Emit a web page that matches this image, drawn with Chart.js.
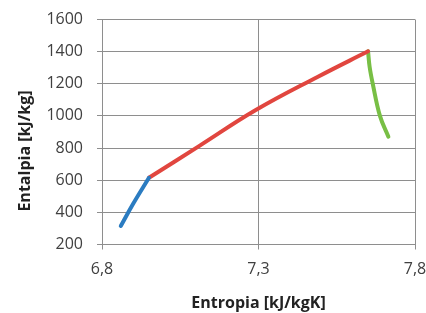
<!DOCTYPE html>
<html>
<head>
<meta charset="utf-8">
<script src="https://cdn.jsdelivr.net/npm/chart.js@4"></script>
<style>
  html, body { margin: 0; padding: 0; background: #fff; }
  #wrap { width: 426px; height: 313px; }
</style>
</head>
<body>
<div id="wrap"><canvas id="grafico"></canvas></div>
<script>
// dados (entropia kJ/kgK, entalpia kJ/kg)
const azulS = [6.86, 6.90, 6.95];
const azulH = [315, 455, 615];

const vermelhoS = [6.95, 7.11, 7.29, 7.49, 7.65];
const vermelhoH = [615, 812, 1035, 1244, 1402];

const verdeS = [7.65, 7.655, 7.665, 7.688, 7.715];
const verdeH = [1402, 1306, 1200, 1000, 871];

const xTicks = [6.8, 7.3, 7.8];
const yTicks = [200, 400, 600, 800, 1000, 1200, 1400, 1600];

const tituloX = "Entropia [kJ/kgK]";
const tituloY = "Entalpia [kJ/kg]";

function pontos(xs, ys) {
  return xs.map((x, i) => ({ x: x, y: ys[i] }));
}

function serie(xs, ys, cor) {
  return {
    data: pontos(xs, ys),
    borderColor: cor,
    backgroundColor: cor,
    borderWidth: 4,
    pointRadius: 0,
    showLine: true,
    tension: 0.4,
    borderCapStyle: "round",
  };
}

const corGrade = "#8e8e8e";
const corTexto = "#404040";

// título do eixo y desenhado à mão (no Excel fica centrado mais abaixo)
const tituloYPlugin = {
  id: "tituloY",
  afterDraw(chart) {
    const c = chart.ctx;
    c.save();
    c.translate(25, 151);
    c.rotate(-Math.PI / 2);
    c.font = "bold 16px 'Open Sans'";
    c.fillStyle = "#222";
    c.textAlign = "center";
    c.textBaseline = "middle";
    c.fillText(tituloY, 0, 0);
    c.restore();
  },
};

const ctx = document.getElementById("grafico").getContext("2d");
const grafico = new Chart(ctx, {
  type: "scatter",
  data: {
    datasets: [
      serie(azulS, azulH, "#2b7cc1"),
      serie(vermelhoS, vermelhoH, "#e1463f"),
      serie(verdeS, verdeH, "#78bf45"),
    ],
  },
  options: {
    responsive: true,
    maintainAspectRatio: false,
    animation: false,
    layout: { padding: { left: 0, right: 11, top: 19.5, bottom: 0 } },
    plugins: {
      legend: { display: false },
      tooltip: { enabled: false },
    },
    scales: {
      x: {
        type: "linear",
        min: 6.8,
        max: 7.8,
        afterBuildTicks: (s) => { s.ticks = xTicks.map((v) => ({ value: v })); },
        afterFit: (s) => {
          s.height = 68.5;
          s.paddingLeft = 0;
          s.paddingRight = 0;
        },
        ticks: {
          padding: 10,
          color: corTexto,
          font: { family: "'Open Sans'", size: 16 },
          maxRotation: 0,
          callback: (v) => v.toFixed(1).replace(".", ","),
        },
        grid: { color: corGrade, tickLength: 5, lineWidth: 1 },
        border: { color: corGrade, width: 1 },
        title: {
          display: true,
          text: tituloX,
          color: "#222",
          font: { family: "'Open Sans'", size: 16, weight: "bold" },
          padding: { top: 4, bottom: 0 },
        },
      },
      y: {
        min: 200,
        max: 1600,
        afterBuildTicks: (s) => { s.ticks = yTicks.map((v) => ({ value: v })); },
        afterFit: (s) => {
          s.width = 102;
          s.paddingTop = 0;
          s.paddingBottom = 0;
        },
        ticks: {
          padding: 14,
          color: corTexto,
          font: { family: "'Open Sans'", size: 16 },
          callback: (v) => String(v),
        },
        grid: { color: corGrade, tickLength: 5, lineWidth: 1 },
        border: { color: corGrade, width: 1 },
      },
    },
  },
  plugins: [tituloYPlugin],
});
</script>
</body>
</html>
